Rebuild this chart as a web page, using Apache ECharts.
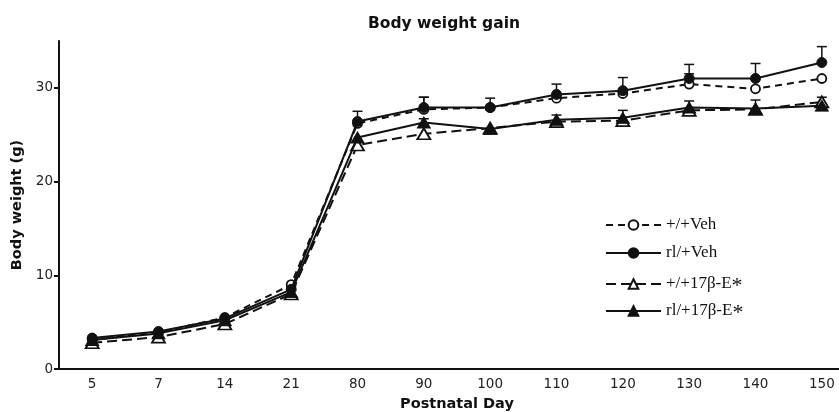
<!DOCTYPE html>
<html><head><meta charset="utf-8">
<script src="https://cdn.jsdelivr.net/npm/echarts@6/dist/echarts.min.js"></script>
<style>html,body{margin:0;padding:0;background:#fff}#c{width:839px;height:412px}</style>
</head><body><div id="c"></div>
<script>
const days = ['5','7','14','21','80','90','100','110','120','130','140','150'];
const wtVeh = [3.1, 3.9, 5.5, 9.0, 26.2, 27.7, 27.9, 28.9, 29.4, 30.4, 29.9, 31.0];
const rlVeh = [3.3, 4.0, 5.4, 8.5, 26.4, 27.9, 27.9, 29.3, 29.7, 31.0, 31.0, 32.7];
const wtE2  = [2.8, 3.4, 4.8, 8.0, 23.9, 25.1, 25.7, 26.4, 26.5, 27.6, 27.7, 28.5];
const rlE2  = [3.1, 3.8, 5.2, 8.2, 24.7, 26.3, 25.6, 26.6, 26.8, 27.9, 27.8, 28.1];
const rlVehErr = [0, 0, 0, 0, 1.1, 1.1, 1.0, 1.1, 1.4, 1.5, 1.6, 1.7];
const wtVehErr = [0, 0, 0, 0, 0, 1.3, 0, 0, 0, 1.1, 0, 0];
const rlE2Err  = [0, 0, 0, 0, 0, 0.4, 0, 0.5, 0.8, 0.7, 0.9, 0.9];
const yTicks = [0, 10, 20, 30];
const names = ['+/+Veh', 'rl/+Veh', '+/+17β-E*', 'rl/+17β-E*'];

function errSeries(vals, errs) {
  return {
    type: 'custom', silent: true, z: 1,
    data: vals.map((v, i) => [i, v, errs[i]]).filter(d => d[2] > 0),
    renderItem: function (params, api) {
      const p0 = api.coord([api.value(0), api.value(1)]);
      const p1 = api.coord([api.value(0), api.value(1) + api.value(2)]);
      const w = 5;
      return { type: 'group', children: [
        { type: 'line', shape: { x1: p0[0], y1: p0[1], x2: p1[0], y2: p1[1] }, style: { stroke: '#111', lineWidth: 1.5 } },
        { type: 'line', shape: { x1: p1[0] - w, y1: p1[1], x2: p1[0] + w, y2: p1[1] }, style: { stroke: '#111', lineWidth: 1.5 } }
      ]};
    }
  };
}

const chart = echarts.init(document.getElementById('c'), null, { renderer: 'canvas' });
const legendFmt = n => n.endsWith('*') ? n.slice(0, -1) + '{s|*}' : n;
const legendTops = [211, 239, 270, 297];
const legends = names.map((n, i) => ({
  orient: 'vertical', left: 600, top: legendTops[i], itemWidth: 55, itemHeight: 12,
  data: [n],
  formatter: legendFmt,
  textStyle: { fontFamily: 'Liberation Serif', fontSize: 17, color: '#111', lineHeight: 18,
    rich: { s: { fontFamily: 'Liberation Serif', fontSize: 22, color: '#111', lineHeight: 18, verticalAlign: 'top' } } }
}));
chart.setOption({
  animation: false,
  title: {
    text: 'Body weight gain', left: 439, textAlign: 'center', top: 11,
    textStyle: { fontFamily: 'DejaVu Sans', fontWeight: 'bold', fontSize: 15.5, color: '#111' }
  },
  legend: legends,
  grid: { left: 59, right: -16, top: 41, bottom: 43, outerBoundsMode: 'none', containLabel: false },
  xAxis: {
    type: 'category', data: days, boundaryGap: true,
    axisLine: { lineStyle: { color: '#111', width: 2 } },
    axisTick: { show: false },
    axisLabel: { color: '#222', fontFamily: 'DejaVu Sans', fontSize: 13.5, margin: 8 },
    name: 'Postnatal Day', nameLocation: 'middle', nameGap: 28,
    nameTextStyle: { fontFamily: 'DejaVu Sans', fontWeight: 'bold', fontSize: 14.5, color: '#111' },
    splitLine: { show: false }
  },
  yAxis: {
    type: 'value', min: 0, max: 35, interval: 10,
    axisLine: { show: true, lineStyle: { color: '#111', width: 2 } },
    axisTick: { show: true, length: 5, customValues: yTicks, lineStyle: { color: '#111', width: 2 } },
    axisLabel: { customValues: yTicks, color: '#222', fontFamily: 'DejaVu Sans', fontSize: 13.5, margin: 6 },
    splitLine: { show: false },
    name: 'Body weight (g)', nameLocation: 'middle', nameGap: 34, nameRotate: 90,
    nameTextStyle: { fontFamily: 'DejaVu Sans', fontWeight: 'bold', fontSize: 14.5, color: '#111' }
  },
  series: [
    errSeries(rlVeh, rlVehErr),
    errSeries(wtVeh, wtVehErr),
    errSeries(rlE2, rlE2Err),
    { name: names[0], type: 'line', data: wtVeh, symbol: 'circle', symbolSize: 9, z: 3,
      lineStyle: { color: '#111', width: 2, type: [7, 5] },
      itemStyle: { color: '#fff', borderColor: '#111', borderWidth: 1.8 } },
    { name: names[1], type: 'line', data: rlVeh, symbol: 'circle', symbolSize: 10, z: 4,
      lineStyle: { color: '#111', width: 2 },
      itemStyle: { color: '#111', borderColor: '#111', borderWidth: 1 } },
    { name: names[2], type: 'line', data: wtE2, symbol: 'triangle', symbolSize: [13, 11], z: 3,
      lineStyle: { color: '#111', width: 2, type: [10, 5] },
      itemStyle: { color: '#fff', borderColor: '#111', borderWidth: 1.8 } },
    { name: names[3], type: 'line', data: rlE2, symbol: 'triangle', symbolSize: [13, 11], z: 4,
      lineStyle: { color: '#111', width: 2 },
      itemStyle: { color: '#111', borderColor: '#111', borderWidth: 1 } }
  ]
});
</script></body></html>
